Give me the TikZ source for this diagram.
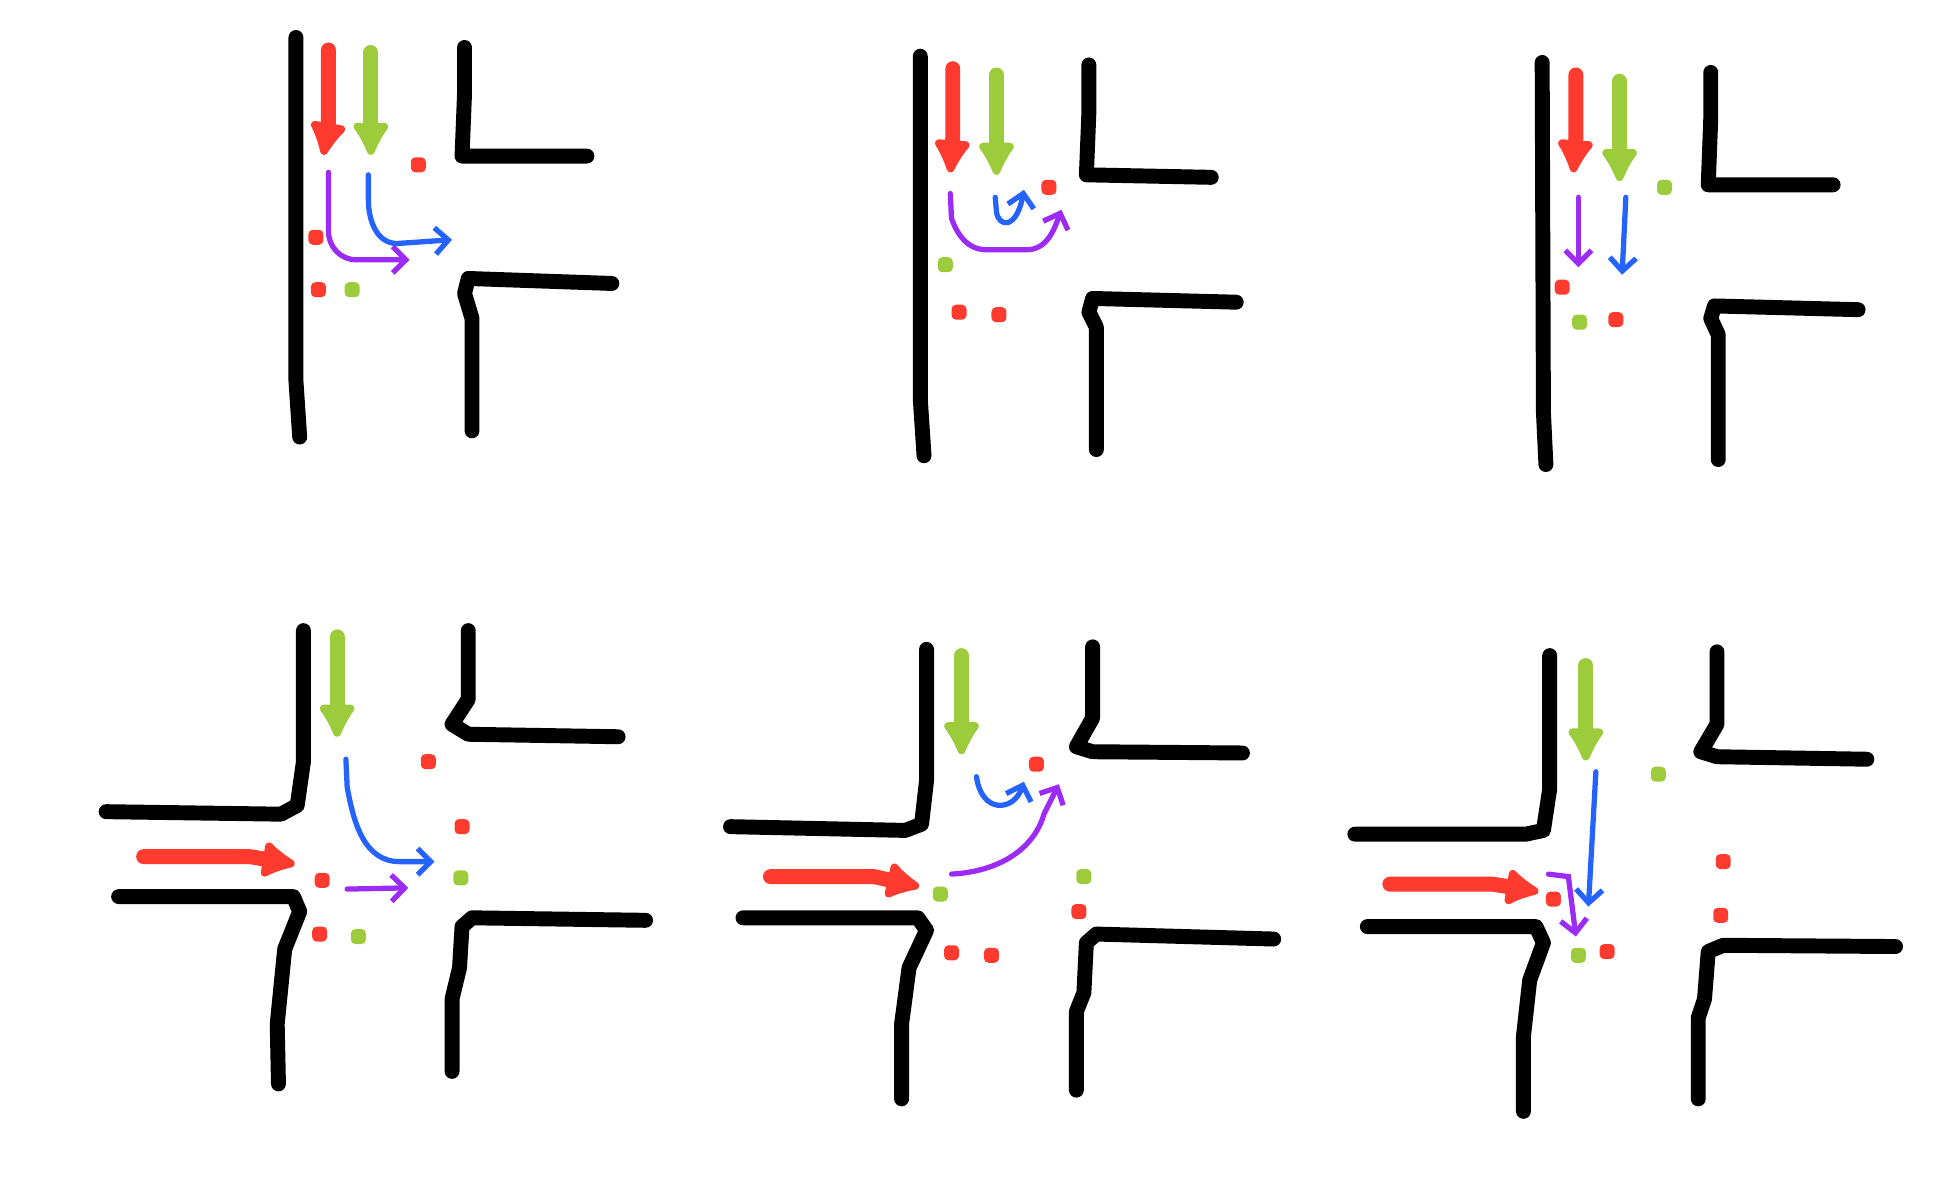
\documentclass[tikz,border=0pt]{standalone}
\usetikzlibrary{arrows.meta}
\definecolor{cred}{HTML}{FF3B30}
\definecolor{cgreen}{HTML}{9CCB3C}
\definecolor{cblue}{HTML}{2563FF}
\definecolor{cpurple}{HTML}{9B2BF5}
\tikzset{
road/.style={line width=3.4pt, line cap=round, line join=round, black}, % kerb lines
fat/.style={line width=3.4pt, line cap=round, -{Latex[length=9pt,width=10pt,round]}}, % signal-group arrows
thin/.style={line width=1.2pt, line cap=round, -{Straight Barb[length=3pt,width=6pt]}}, % turning paths
}
\newcommand{\spot}[3]{\fill[#1, rounded corners=1pt] (#2-6,#3-6) rectangle (#2+6,#3+6);}
\begin{document}
\begin{tikzpicture}[x=0.01cm, y=-0.01cm]
\useasboundingbox (0,0) rectangle (1560,957);
% top left
\draw[road] (237,30) -- (237,305) -- (240,350);
\draw[road] (372,38) -- (372,75) -- (370,125) -- (470,125);
\draw[road] (490,227) -- (375,223) -- (372,235) -- (378,255) -- (378,345);
\draw[fat, cred] (263,40) -- (263,100) -- (259,124);
\draw[fat, cgreen] (297,42) -- (297,124);
\spot{cred}{335}{132} \spot{cred}{253}{190} \spot{cred}{255}{232} \spot{cgreen}{282}{232}
\draw[thin, cpurple] (263,138) -- (263,185) to[out=-90,in=180] (285,208) -- (328,208);
\draw[thin, cblue] (295,140) -- (295,160) to[out=-90,in=180] (318,195) -- (362,192);
% top middle
\draw[road] (737,45) -- (737,320) -- (740,365);
\draw[road] (872,52) -- (872,90) -- (870,140) -- (970,142);
\draw[road] (990,242) -- (875,239) -- (872,250) -- (878,262) -- (878,360);
\draw[fat, cred] (763,55) -- (763,110) -- (761,138);
\draw[fat, cgreen] (798,60) -- (798,140);
\spot{cred}{840}{150} \spot{cgreen}{757}{212} \spot{cred}{768}{250} \spot{cred}{800}{252}
\draw[thin, cpurple] (761,155) -- (762,175) to[out=-70,in=180] (790,200) -- (822,200) to[out=0,in=-110] (850,168);
\draw[thin, cblue] (797,158) -- (798,170) .. controls (800,182) and (814,184) .. (820,152);
% top right
\draw[road] (1235,50) -- (1236,330) -- (1238,372);
\draw[road] (1370,58) -- (1370,95) -- (1368,148) -- (1468,148);
\draw[road] (1488,248) -- (1373,245) -- (1370,255) -- (1376,268) -- (1376,368);
\draw[fat, cred] (1262,60) -- (1262,110) -- (1260,138);
\draw[fat, cgreen] (1297,65) -- (1297,145);
\spot{cgreen}{1333}{150} \spot{cred}{1251}{230} \spot{cgreen}{1265}{258} \spot{cred}{1294}{256}
\draw[thin, cpurple] (1264,158) -- (1264,214);
\draw[thin, cblue] (1302,158) -- (1299,220);
% bottom left
\draw[road] (243,505) -- (243,610) -- (238,645) -- (225,652) -- (85,650);
\draw[road] (95,718) -- (235,718) -- (240,730) -- (228,760) -- (222,820) -- (223,868);
\draw[road] (375,505) -- (375,560) -- (362,580) -- (375,588) -- (495,590);
\draw[road] (517,737) -- (378,735) -- (370,742) -- (368,775) -- (362,800) -- (362,858);
\draw[fat, cred] (115,686) -- (200,686) -- (236,692);
\draw[fat, cgreen] (270,510) -- (270,590);
\spot{cred}{343}{610} \spot{cred}{370}{662} \spot{cgreen}{369}{703} \spot{cred}{258}{705} \spot{cred}{256}{748} \spot{cgreen}{287}{750}
\draw[thin, cblue] (277,608) -- (278,630) to[out=-80,in=180] (320,690) -- (348,690);
\draw[thin, cpurple] (278,712) -- (327,711);
% bottom middle
\draw[road] (742,520) -- (742,625) -- (738,660) -- (725,665) -- (585,662);
\draw[road] (595,735) -- (735,735) -- (742,745) -- (728,775) -- (722,820) -- (722,880);
\draw[road] (875,518) -- (875,575) -- (862,598) -- (875,602) -- (995,603);
\draw[road] (1020,752) -- (878,748) -- (870,755) -- (868,795) -- (862,810) -- (862,873);
\draw[fat, cred] (617,702) -- (700,702) -- (736,710);
\draw[fat, cgreen] (770,525) -- (770,604);
\spot{cred}{830}{612} \spot{cgreen}{753}{716} \spot{cred}{762}{763} \spot{cred}{794}{765} \spot{cgreen}{868}{702} \spot{cred}{864}{730}
\draw[thin, cblue] (782,622) .. controls (786,652) and (812,650) .. (820,626);
\draw[thin, cpurple] (762,700) .. controls (800,698) and (828,680) .. (836,652) -- (848,628);
% bottom right
\draw[road] (1241,525) -- (1241,632) -- (1236,665) -- (1222,668) -- (1085,668);
\draw[road] (1095,742) -- (1230,742) -- (1236,755) -- (1225,785) -- (1220,830) -- (1220,890);
\draw[road] (1375,522) -- (1375,580) -- (1362,602) -- (1375,606) -- (1495,608);
\draw[road] (1518,758) -- (1380,757) -- (1368,762) -- (1365,800) -- (1360,815) -- (1360,880);
\draw[fat, cred] (1113,708) -- (1195,708) -- (1232,714);
\draw[fat, cgreen] (1270,533) -- (1270,609);
\spot{cgreen}{1328}{620} \spot{cred}{1380}{690} \spot{cred}{1378}{733} \spot{cred}{1244}{720} \spot{cgreen}{1264}{765} \spot{cred}{1287}{762}
\draw[thin, cblue] (1278,618) -- (1272,726);
\draw[thin, cpurple] (1240,700) -- (1256,702) -- (1262,750);
\end{tikzpicture}
\end{document}
